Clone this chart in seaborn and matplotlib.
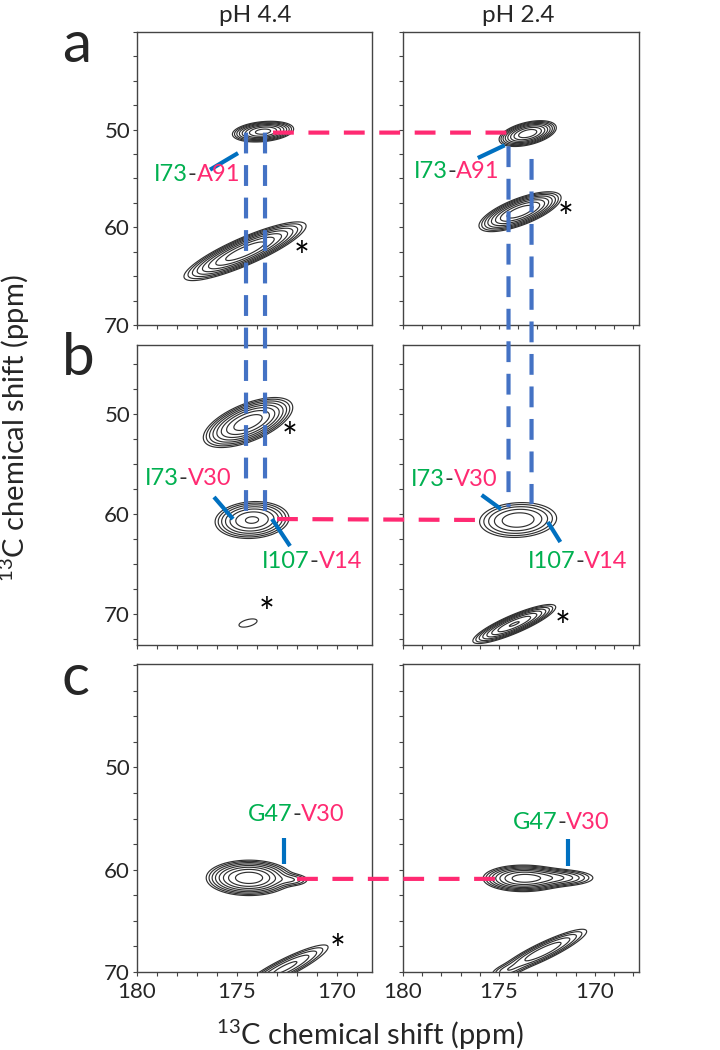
#%% imports
import numpy as np
import matplotlib
matplotlib.use("Agg")
import matplotlib.pyplot as plt
import seaborn as sns
from matplotlib.ticker import MultipleLocator
from matplotlib.patches import ConnectionPatch
from matplotlib.offsetbox import TextArea, HPacker, AnnotationBbox

#%% data
# peaks: (13C dim x, 13C dim y, width x, width y, tilt, height)
peaks_a44 = [(173.7, 50.2, 0.65, 0.45, 0.25, 0.8), (174.6, 62.45, 1.27, 1.25, 0.86, 0.9)]
peaks_a24 = [(173.5, 50.4, 0.62, 0.55, 0.45, 0.9), (173.9, 58.4, 0.89, 0.85, 0.7, 0.9)]
peaks_b44 = [(174.45, 50.85, 0.93, 1.04, 0.6, 0.9), (174.25, 60.6, 0.86, 0.86, 0.1, 0.5),
             (174.45, 70.9, 0.55, 0.5, 0.5, 0.07)]
peaks_b24 = [(174.0, 60.6, 1.06, 0.92, 0.1, 0.3), (174.2, 71.0, 0.94, 0.85, 0.86, 0.7)]
peaks_c44 = [(174.4, 60.8, 0.89, 0.72, 0.0, 0.9), (172.2, 61.0, 0.5, 0.35, 0.0, 0.12),
             (172.6, 69.6, 1.2, 1.25, 0.9, 0.25)]
peaks_c24 = [(173.75, 60.85, 0.88, 0.55, 0.0, 0.8), (172.0, 60.8, 1.0, 0.42, 0.0, 0.3),
             (172.7, 68.0, 1.2, 1.15, 0.9, 0.3), (174.6, 69.9, 0.5, 0.4, 0.4, 0.07)]

# assignments: (donor, acceptor, label x, label y, line start, line end)
labels_a44 = [("I73", "A91", 177.0, 54.6, (176.35, 54.1), (174.95, 52.4))]
labels_a24 = [("I73", "A91", 177.2, 54.3, (176.1, 52.9), (174.7, 51.6))]
labels_b44 = [("I73", "V30", 177.45, 56.4, (176.15, 58.3), (175.2, 60.5)),
              ("I107", "V14", 171.25, 64.7, (173.25, 60.5), (172.35, 63.2))]
labels_b24 = [("I73", "V30", 177.35, 56.5, (175.9, 58.1), (174.9, 59.5)),
              ("I107", "V14", 170.9, 64.75, (172.45, 60.8), (171.8, 62.8))]
labels_c44 = [("G47", "V30", 172.05, 54.6, (172.65, 56.9), (172.65, 59.4))]
labels_c24 = [("G47", "V30", 171.75, 55.4, (171.4, 57.0), (171.4, 59.6))]

# artefact peaks marked with *
stars_a44 = [(171.75, 62.5)]
stars_a24 = [(171.5, 58.5)]
stars_b44 = [(172.35, 51.9), (173.5, 69.4)]
stars_b24 = [(171.7, 70.8)]
stars_c44 = [(169.95, 67.4)]
stars_c24 = []

# connectors between panels: (x, y) start, (x, y) end
blue_left = [((174.55, 50.3), (174.55, 59.7)), ((173.6, 50.3), (173.6, 59.7))]
blue_right = [((174.5, 51.7), (174.5, 59.3)), ((173.3, 53.0), (173.3, 59.0))]
pink_rows = [((173.2, 50.3), (174.0, 50.3)), ((173.0, 60.5), (175.5, 60.6)),
             ((172.0, 60.9), (175.1, 60.9))]

row_letters = ["a", "b", "c"]
col_titles = ["pH 4.4", "pH 2.4"]
ylims = [(70, 40), (73.1, 43.1), (70, 39.9)]

#%% style
sns.set_style("ticks")
plt.rcParams["font.family"] = ["Lato", "DejaVu Sans"]
plt.rcParams["mathtext.fontset"] = "custom"
plt.rcParams["mathtext.rm"] = "Lato"
plt.rcParams["mathtext.default"] = "rm"

GREEN = "#00B050"
PINK = "#FF2A72"
BLUE = "#0070C0"
DASHBLUE = "#4472C4"

xg = np.linspace(166, 182, 800)
yg = np.linspace(36, 76, 900)
X, Y = np.meshgrid(xg, yg)
levels = 0.05 * 1.45 ** np.arange(9)


def spectrum(peaks):
    z = np.zeros_like(X)
    for x0, y0, sx, sy, rho, amp in peaks:
        dx = (X - x0) / sx
        dy = (Y - y0) / sy
        q = (dx ** 2 - 2 * rho * dx * dy + dy ** 2) / (1 - rho ** 2)
        z += amp * np.exp(-0.5 * q)
    return z


fig = plt.figure(figsize=(7.2, 10.5), dpi=100)
lefts = [0.1903, 0.5597]
widths = [0.3264, 0.3278]
bottoms = [0.6905, 0.3857, 0.0743]
heights = [0.2790, 0.2857, 0.2933]
xright = [168.25, 167.7]

peaks = [[peaks_a44, peaks_a24], [peaks_b44, peaks_b24], [peaks_c44, peaks_c24]]
labels = [[labels_a44, labels_a24], [labels_b44, labels_b24], [labels_c44, labels_c24]]
stars = [[stars_a44, stars_a24], [stars_b44, stars_b24], [stars_c44, stars_c24]]

axes = [[None, None] for _ in range(3)]
for r in range(3):
    for c in range(2):
        ax = fig.add_axes([lefts[c], bottoms[r], widths[c], heights[r]])
        axes[r][c] = ax
        ax.contour(X, Y, spectrum(peaks[r][c]), levels=levels,
                   colors="#303030", linewidths=0.85)
        for don, acc, lx, ly, p1, p2 in labels[r][c]:
            sns.lineplot(x=[p1[0], p2[0]], y=[p1[1], p2[1]], ax=ax, sort=False,
                         estimator=None, color=BLUE, linewidth=3,
                         solid_capstyle="butt")
            box = HPacker(children=[TextArea(don, textprops=dict(color=GREEN, fontsize=17)),
                                    TextArea("-", textprops=dict(color="#333333", fontsize=17)),
                                    TextArea(acc, textprops=dict(color=PINK, fontsize=17))],
                          pad=0, sep=0, align="baseline")
            ax.add_artist(AnnotationBbox(box, (lx, ly), xycoords="data", frameon=False,
                                         box_alignment=(0.5, 0.5), pad=0))
        for sx_, sy_ in stars[r][c]:
            ax.annotate("*", xy=(sx_, sy_), xytext=(0, -13), textcoords="offset points",
                        ha="center", va="baseline", fontsize=27, color="black")
        ax.set_xlim(180, xright[c])
        ax.set_ylim(*ylims[r])
        ax.set_xticks([180, 175, 170])
        ax.set_yticks([50, 60, 70])
        ax.xaxis.set_minor_locator(MultipleLocator(1))
        ax.yaxis.set_minor_locator(MultipleLocator(2.5))
        ax.tick_params(which="both", direction="out", length=3, width=0.8,
                       color="#444444", labelsize=16, pad=2)
        ax.tick_params(axis="x", pad=4)
        ax.tick_params(labelbottom=(r == 2), labelleft=(c == 0))
        ax.set_xlabel("")
        ax.set_ylabel("")
        for s in ax.spines.values():
            s.set_color("#444444")
            s.set_linewidth(1.0)

#%% connectors across panels
for colidx, pairs in [(0, blue_left), (1, blue_right)]:
    for pA, pB in pairs:
        con = ConnectionPatch(xyA=pA, coordsA="data", axesA=axes[0][colidx],
                              xyB=pB, coordsB="data", axesB=axes[1][colidx],
                              color=DASHBLUE, linewidth=3, linestyle=(0, (5, 2.8)),
                              capstyle="butt")
        fig.add_artist(con)

for r, (pA, pB) in enumerate(pink_rows):
    con = ConnectionPatch(xyA=pA, coordsA="data", axesA=axes[r][0],
                          xyB=pB, coordsB="data", axesB=axes[r][1],
                          color=PINK, linewidth=3, linestyle=(0, (5, 3.5)),
                          capstyle="butt")
    fig.add_artist(con)

#%% figure text
for letter, yb in zip(row_letters, [62, 375, 695]):
    fig.text(62 / 720, 1 - yb / 1050, letter, fontsize=42, ha="left", va="baseline")
for title, xc in zip(col_titles, [255, 518]):
    fig.text(xc / 720, 1 - 22 / 1050, title, fontsize=17.5, ha="center", va="baseline")
fig.text(15 / 720, 1 - 428 / 1050, "$^{13}$C chemical shift (ppm)", rotation=90,
         fontsize=21, ha="center", va="center")
fig.text(370 / 720, 1 - 1035 / 1050, "$^{13}$C chemical shift (ppm)",
         fontsize=21, ha="center", va="center")

fig.savefig("out.png", dpi=100)
